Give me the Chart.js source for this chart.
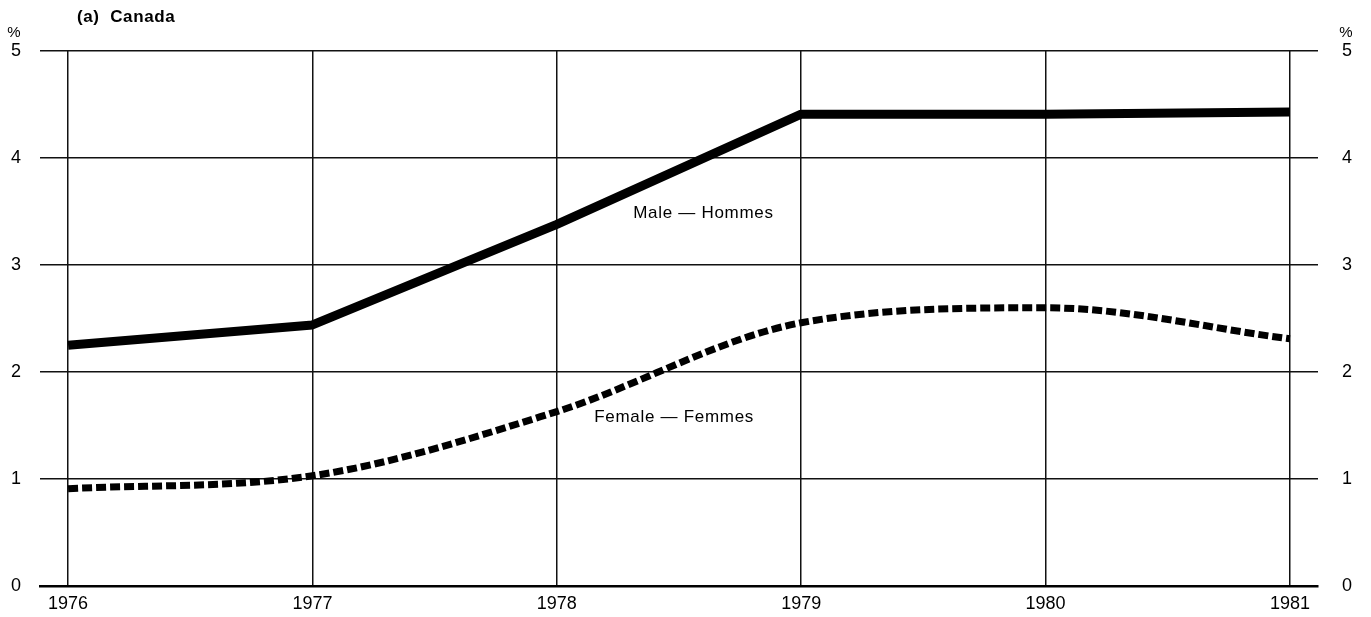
<!DOCTYPE html>
<html>
<head>
  <meta charset="UTF-8">
  <title>(a) Canada</title>
  <script src="https://cdn.jsdelivr.net/npm/chart.js"></script>
  <style>
    html, body { margin: 0; padding: 0; background: #fff; }
    #wrap { position: relative; width: 1371px; height: 617px; }
  </style>
</head>
<body>
  <div id="wrap">
    <canvas id="chart"></canvas>
  </div>
  <script>
    // values
    const years = [1976, 1977, 1978, 1979, 1980, 1981];
    const maleValues = [2.25, 2.44, 3.38, 4.41, 4.41, 4.43];
    const femaleValues = [0.91, 1.03, 1.63, 2.46, 2.60, 2.31];
    const yTicks = [0, 1, 2, 3, 4, 5];
    const maleLabel = "Male — Hommes";
    const femaleLabel = "Female — Femmes";
    const title = "(a)  Canada";

    const FONT = "'Liberation Sans', Arial, Helvetica, sans-serif";

    const toPoints = (vals) => vals.map((v, i) => ({ x: years[i], y: v }));

    // texts drawn on the canvas: title, % markers, series labels
    const textPlugin = {
      id: "texts",
      afterDraw(chart) {
        const ctx = chart.ctx;
        const xs = chart.scales.x;
        const ys = chart.scales.y;
        ctx.save();
        ctx.fillStyle = "#000";
        ctx.textBaseline = "middle";

        ctx.font = "bold 17px " + FONT;
        ctx.letterSpacing = "0.6px";
        ctx.textAlign = "left";
        ctx.fillText(title, 77, 17);

        ctx.letterSpacing = "0px";
        ctx.font = "15px " + FONT;
        ctx.textAlign = "center";
        ctx.fillText("%", 14, 33);
        ctx.fillText("%", 1346, 33);

        ctx.font = "17px " + FONT;
        ctx.letterSpacing = "0.7px";
        ctx.fillText(maleLabel, xs.getPixelForValue(1978.6), ys.getPixelForValue(3.48));
        ctx.fillText(femaleLabel, xs.getPixelForValue(1978.48), ys.getPixelForValue(1.58));
        ctx.restore();
      }
    };

    new Chart(document.getElementById("chart"), {
      type: "line",
      data: {
        datasets: [
          {
            label: maleLabel,
            data: toPoints(maleValues),
            borderColor: "#000",
            borderWidth: 9,
            borderCapStyle: "butt",
            borderJoinStyle: "round",
            tension: 0,
            pointRadius: 0,
            fill: false
          },
          {
            label: femaleLabel,
            data: toPoints(femaleValues),
            borderColor: "#000",
            borderWidth: 7,
            borderDash: [10, 4],
            borderCapStyle: "butt",
            cubicInterpolationMode: "monotone",
            pointRadius: 0,
            fill: false
          }
        ]
      },
      options: {
        responsive: true,
        maintainAspectRatio: false,
        animation: false,
        layout: { padding: { top: 51, left: 0, right: 0, bottom: 0 } },
        plugins: {
          legend: { display: false },
          tooltip: { enabled: false }
        },
        scales: {
          x: {
            type: "linear",
            min: 1975.885,
            max: 1981.115,
            afterBuildTicks: (s) => { s.ticks = years.map(v => ({ value: v })); },
            afterFit: (s) => { s.height = 31; },
            grid: { color: "#111", lineWidth: 1.5, drawTicks: false },
            border: { display: true, color: "#000", width: 2.5 },
            ticks: {
              color: "#000",
              padding: 7,
              maxRotation: 0,
              autoSkip: false,
              font: { family: FONT, size: 18 },
              callback: (v) => String(v)
            }
          },
          y: {
            position: "left",
            min: 0,
            max: 5,
            afterBuildTicks: (s) => { s.ticks = yTicks.map(v => ({ value: v })); },
            afterFit: (s) => { s.width = 40; },
            grid: { color: "#111", lineWidth: 1.5, drawTicks: true, tickLength: 16, tickColor: "rgba(0,0,0,0)" },
            border: { display: false },
            ticks: {
              color: "#000",
              padding: 3,
              font: { family: FONT, size: 18 }
            }
          },
          y2: {
            position: "right",
            min: 0,
            max: 5,
            afterBuildTicks: (s) => { s.ticks = yTicks.map(v => ({ value: v })); },
            afterFit: (s) => { s.width = 53; },
            grid: { display: false, drawTicks: true, tickLength: 20 },
            border: { display: false },
            ticks: {
              color: "#000",
              padding: 4,
              font: { family: FONT, size: 18 }
            }
          }
        }
      },
      plugins: [textPlugin]
    });
  </script>
</body>
</html>
